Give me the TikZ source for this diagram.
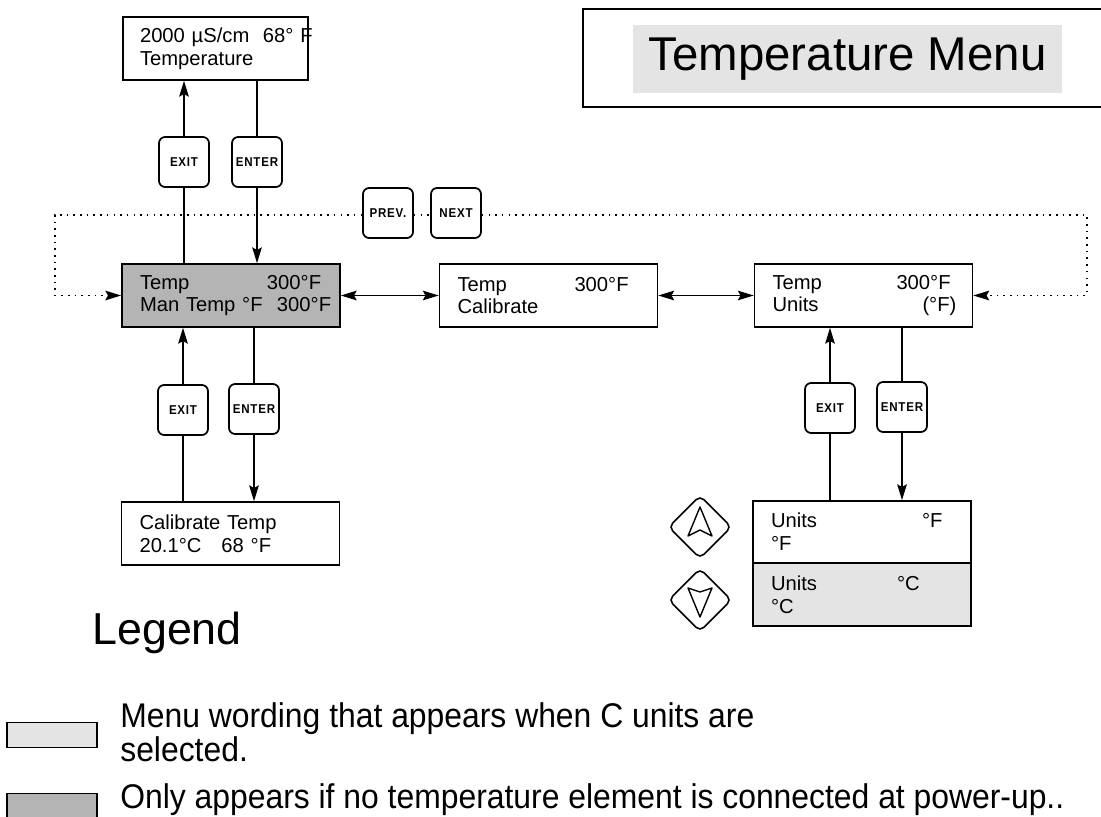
\documentclass[tikz,border=0pt]{standalone}
\usepackage{fontspec}
\setmainfont{Liberation Sans}
\newfontfamily\keyfont[LetterSpace=6, FakeStretch=0.9]{Liberation Sans}
\newfontfamily\narrowfont[FakeStretch=0.93]{Liberation Sans}
\usetikzlibrary{arrows.meta,shapes.geometric}

\definecolor{shadedark}{HTML}{B4B4B4}
\definecolor{shadelight}{HTML}{E4E4E4}

\tikzset{
  lcd/.style={draw, line width=1pt, minimum height=1.26cm, text width=3.64cm,
    inner xsep=0.36cm, align=left, font=\fontsize{11.5}{13}\selectfont},
  key/.style={draw, line width=1pt, rounded corners=3.5pt, minimum size=1cm,
    inner sep=0pt, font=\keyfont\bfseries\fontsize{7.3}{8}\selectfont},
  arrowkey/.style={draw, line width=0.9pt, shape=diamond, rounded corners=3pt,
    minimum width=1.26cm, minimum height=1.26cm},
  flow/.style={line width=0.6pt},
  loopline/.style={line width=0.9pt, dash pattern=on 0.9pt off 2.9pt},
  swatch/.style={draw, line width=0.7pt, minimum width=1.8cm, minimum height=0.5cm},
  note/.style={anchor=base west, inner sep=0pt, align=left,
    font=\narrowfont\fontsize{19.5}{17.5}\selectfont}
}

\begin{document}
\begin{tikzpicture}[x=0.02cm, y=-0.02cm, >={Stealth[length=9pt,width=5.5pt,inset=1.5pt]}]
\useasboundingbox (0,0) rectangle (1101,817);

% title
\draw[line width=1pt] (583,9) rectangle (1112,107);
\node[fill=shadelight, minimum width=8.58cm, minimum height=1.36cm,
  font=\fontsize{27}{30}\selectfont] (title) at (847.5,59) {Temperature Menu};

% display screens
\node[lcd, text width=3.02cm, inner xsep=0.34cm] (meter) at (215.5,48.5)
  {\makebox[2.46cm][l]{2000 µS/cm}\mbox{68° F}\\Temperature};
\node[lcd, fill=shadedark] (mantemp) at (231,295.5)
  {\makebox[2.54cm][l]{Temp}300°F\\\makebox[2.74cm][l]{Man Temp °F}300°F};
\node[lcd] (calib) at (548.5,295.5) {\makebox[2.34cm][l]{Temp}300°F\\Calibrate};
\node[lcd] (units) at (863.5,295.5)
  {\makebox[2.48cm][l]{Temp}300°F\\\makebox[3.0cm][l]{Units}(°F)};
\node[lcd] (caltemp) at (230.5,533.5) {Calibrate Temp\\\makebox[1.64cm][l]{20.1°C}68 °F};
\node[lcd, minimum height=1.24cm] (unitsF) at (862,532) {\makebox[3.02cm][l]{Units}°F\\°F};
\node[lcd, fill=shadelight] (unitsC) at (862,594.5) {\makebox[2.52cm][l]{Units}°C\\°C};

% keys
\node[key] (exitA) at (184,162) {EXIT};
\node[key] (enterA) at (257,162) {ENTER};
\node[key] (prev) at (388,213) {PREV.};
\node[key] (next) at (456,213) {NEXT};
\node[key] (exitB) at (183,410) {EXIT};
\node[key] (enterB) at (254,409) {ENTER};
\node[key] (exitC) at (830,408) {EXIT};
\node[key] (enterC) at (902,407) {ENTER};

\node[arrowkey] (up) at (700,527) {};
\node[arrowkey] (down) at (700,600) {};
\draw[line width=0.8pt, line join=round, shift={(up.center)}] (0,-20) -- (12,9) -- (0,3) -- (-12,9) -- cycle;
\draw[line width=0.8pt, line join=round, shift={(down.center)}] (0,17) -- (12,-12) -- (0,-8) -- (-12,-12) -- cycle;

% connectors
\draw[flow,->] (exitA) -- (exitA |- meter.south);
\draw[flow] (exitA) -- (exitA |- mantemp.north);
\draw[flow] (enterA) -- (enterA |- meter.south);
\draw[flow,->] (enterA) -- (enterA |- mantemp.north);
\draw[flow,<->] (mantemp) -- (calib);
\draw[flow,<->] (calib) -- (units);
\draw[flow,->] (exitB) -- (exitB |- mantemp.south);
\draw[flow] (exitB) -- (exitB |- caltemp.north);
\draw[flow] (enterB) -- (enterB |- mantemp.south);
\draw[flow,->] (enterB) -- (enterB |- caltemp.north);
\draw[flow,->] (exitC) -- (exitC |- units.south);
\draw[flow] (exitC) -- (exitC |- unitsF.north);
\draw[flow] (enterC) -- (enterC |- units.south);
\draw[flow,->] (enterC) -- (enterC |- unitsF.north);

% prev / next loop
\coordinate (loopL) at (55,215);
\coordinate (loopR) at (1087,215);
\draw[loopline,->] (prev) -- (prev.west |- loopL) -- (loopL) |- (mantemp);
\draw[loopline] (prev.east |- loopL) -- (next.west |- loopL);
\draw[loopline,->] (next.east |- loopL) -- (loopR) |- (units);

% legend
\node[anchor=base west, inner sep=0pt, font=\fontsize{25.5}{28}\selectfont] (legend) at (92,644) {Legend};
\node[swatch, fill=shadelight] (keylight) at (52,735) {};
\node[swatch, fill=shadedark] (keydark) at (52,806) {};
\node[note] (notelight) at (120,761) {Menu wording that appears when C units are\\selected.};
\node[note] (notedark) at (120,808) {Only appears if no temperature element is connected at power-up..};
\end{tikzpicture}
\end{document}
